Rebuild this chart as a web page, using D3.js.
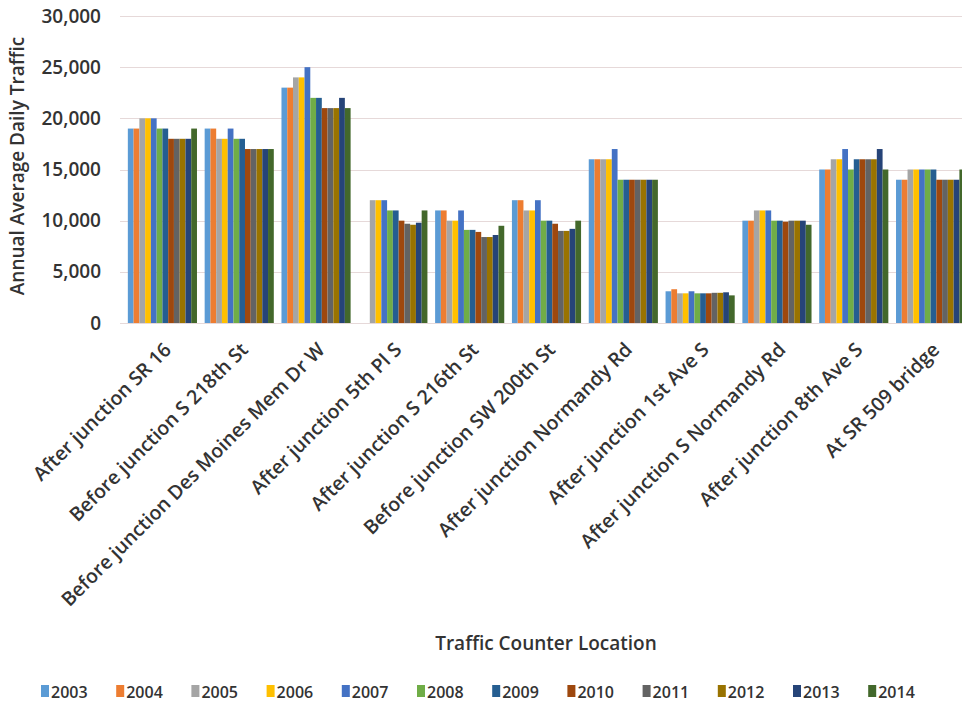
<!DOCTYPE html>
<html>
<head>
<meta charset="utf-8">
<script src="https://cdn.jsdelivr.net/npm/d3@7"></script>
<style>
  body { margin: 0; background: #fff; }
  svg { display: block; font-family: "Open Sans", sans-serif; }
</style>
</head>
<body>
<div id="chart"></div>
<script>
// categories along the x axis
const locations = [
  "After junction SR 16",
  "Before junction S 218th St",
  "Before junction Des Moines Mem Dr W",
  "After junction 5th Pl S",
  "After junction S 216th St",
  "Before junction SW 200th St",
  "After junction Normandy Rd",
  "After junction 1st Ave S",
  "After junction S Normandy Rd",
  "After junction 8th Ave S",
  "At SR 509 bridge"
];

const years = ["2003", "2004", "2005", "2006", "2007", "2008", "2009", "2010", "2011", "2012", "2013", "2014"];

const yearColors = ["#5b9bd5", "#ed7d31", "#a5a5a5", "#ffc000", "#4472c4", "#70ad47",
  "#255e91", "#9e480e", "#636363", "#997300", "#264478", "#43682b"];

// one row per location, one value per year (null = no count)
const trafficSR16 = [19000, 19000, 20000, 20000, 20000, 19000, 19000, 18000, 18000, 18000, 18000, 19000];
const trafficS218 = [19000, 19000, 18000, 18000, 19000, 18000, 18000, 17000, 17000, 17000, 17000, 17000];
const trafficDesMoines = [23000, 23000, 24000, 24000, 25000, 22000, 22000, 21000, 21000, 21000, 22000, 21000];
const traffic5thPl = [null, null, 12000, 12000, 12000, 11000, 11000, 10000, 9700, 9600, 9800, 11000];
const trafficS216 = [11000, 11000, 10000, 10000, 11000, 9100, 9100, 8900, 8400, 8400, 8600, 9500];
const trafficSW200 = [12000, 12000, 11000, 11000, 12000, 10000, 10000, 9700, 9000, 9000, 9200, 10000];
const trafficNormandy = [16000, 16000, 16000, 16000, 17000, 14000, 14000, 14000, 14000, 14000, 14000, 14000];
const traffic1stAve = [3100, 3300, 2900, 2900, 3100, 2900, 2900, 2900, 2950, 2950, 3000, 2700];
const trafficSNormandy = [10000, 10000, 11000, 11000, 11000, 10000, 10000, 9900, 10000, 10000, 10000, 9600];
const traffic8thAve = [15000, 15000, 16000, 16000, 17000, 15000, 16000, 16000, 16000, 16000, 17000, 15000];
const trafficSR509 = [14000, 14000, 15000, 15000, 15000, 15000, 15000, 14000, 14000, 14000, 14000, 15000];

const yTicks = [0, 5000, 10000, 15000, 20000, 25000, 30000];

const seriesByLocation = [trafficSR16, trafficS218, trafficDesMoines, traffic5thPl, trafficS216,
  trafficSW200, trafficNormandy, traffic1stAve, trafficSNormandy, traffic8thAve, trafficSR509];

const width = 962, height = 708;
const textColor = "#333";

const svg = d3.select("#chart").append("svg")
  .attr("width", width)
  .attr("height", height);

const x0 = d3.scaleBand()
  .domain(locations)
  .range([124, 969])
  .paddingInner(0.1)
  .paddingOuter(0.05);

const x1 = d3.scaleBand()
  .domain(years)
  .range([0, x0.bandwidth()]);

const y = d3.scaleLinear()
  .domain([0, 30000])
  .range([323, 16]);

const color = d3.scaleOrdinal().domain(years).range(yearColors);

// gridlines
svg.append("g")
  .selectAll("line")
  .data(yTicks)
  .join("line")
  .attr("x1", 120)
  .attr("x2", width)
  .attr("y1", d => Math.round(y(d)) + 0.5)
  .attr("y2", d => Math.round(y(d)) + 0.5)
  .attr("stroke", "#e6d9d9")
  .attr("stroke-width", 1);

// y axis labels
const yAxis = svg.append("g")
  .attr("transform", "translate(101,0)")
  .call(d3.axisLeft(y).tickValues(yTicks).tickSize(0).tickPadding(0).tickFormat(d3.format(",")));
yAxis.select(".domain").remove();
yAxis.selectAll("text")
  .attr("font-size", 19)
  .attr("font-weight", 600)
  .attr("fill", textColor)
  .attr("font-family", "Open Sans, sans-serif");

// bars
const groups = svg.append("g")
  .selectAll("g")
  .data(locations)
  .join("g")
  .attr("transform", d => `translate(${x0(d)},0)`);

groups.selectAll("rect")
  .data((d, i) => years.map((yr, j) => ({ year: yr, value: seriesByLocation[i][j] })))
  .join("rect")
  .filter(d => d.value != null)
  .attr("x", d => x1(d.year))
  .attr("y", d => y(d.value))
  .attr("width", x1.bandwidth())
  .attr("height", d => y(0) - y(d.value))
  .attr("fill", d => color(d.year));

// x axis labels
const xAxis = svg.append("g")
  .attr("transform", `translate(0,${y(0)})`)
  .call(d3.axisBottom(x0).tickSize(0).tickPadding(0));
xAxis.select(".domain").remove();
xAxis.selectAll("text")
  .attr("font-size", 19.5)
  .attr("font-weight", 600)
  .attr("fill", textColor)
  .attr("font-family", "Open Sans, sans-serif")
  .attr("text-anchor", "end")
  .attr("dy", 0)
  .attr("transform", "translate(10,28) rotate(-45)");

// axis titles
svg.append("text")
  .attr("transform", "translate(24,166) rotate(-90)")
  .attr("text-anchor", "middle")
  .attr("font-size", 19)
  .attr("font-weight", 600)
  .attr("fill", textColor)
  .text("Annual Average Daily Traffic");

svg.append("text")
  .attr("x", 546)
  .attr("y", 650)
  .attr("text-anchor", "middle")
  .attr("font-size", 19)
  .attr("font-weight", 600)
  .attr("fill", textColor)
  .text("Traffic Counter Location");

// legend
const legend = svg.append("g")
  .selectAll("g")
  .data(years)
  .join("g")
  .attr("transform", (d, i) => `translate(${41 + i * 75.2},0)`);

legend.append("rect")
  .attr("x", 0)
  .attr("y", 685)
  .attr("width", 8)
  .attr("height", 12)
  .attr("fill", d => color(d));

legend.append("text")
  .attr("x", 10)
  .attr("y", 698)
  .attr("font-size", 16)
  .attr("font-weight", 600)
  .attr("fill", textColor)
  .text(d => d);
</script>
</body>
</html>
